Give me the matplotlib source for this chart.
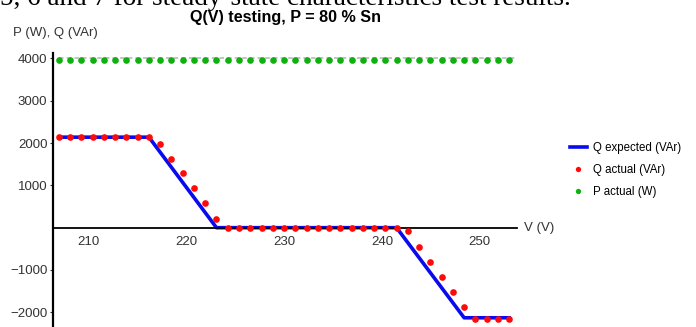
import numpy as np
import matplotlib.pyplot as plt

plt.rcParams['font.family'] = ['Liberation Sans', 'DejaVu Sans']

# measured points, 207 V .. 253 V in 0.5 % Un steps
V = 207 + 1.15*np.arange(41)
Q_act = [2140]*9 + [1980, 1625, 1285, 930, 575, 205] + [0]*16 + \
        [-80, -450, -820, -1165, -1525, -1870] + [-2150]*4
P_act = [3965]*41

# expected Q(V) curve
V_exp = [207, 216.2, 223.1, 241.5, 248.4, 253]
Q_exp = [2140, 2140, 0, 0, -2130, -2130]

P_set = 4000

fig = plt.figure(figsize=(6.96, 3.27), dpi=100)
ax = fig.add_axes([53/696, 0, (517-53)/696, 1-53/327])

ax.hlines(P_set, 207, 253.8, colors='#b4b4b4', linestyles=(0, (3, 2)), lw=1.1, zorder=1)
ax.plot(V_exp, Q_exp, color='#0a0aee', lw=2.6, label='Q expected (VAr)', zorder=2)
ax.plot(V, Q_act, 'o', color='#ff0a0a', ms=4.8, mec='none', label='Q actual (VAr)', zorder=3)
ax.plot(V, P_act, 'o', color='#10b010', ms=4.8, mec='none', label='P actual (W)', zorder=3)

ax.set_xlim(206.4, 253.8)
ax.set_ylim(-2348, 4130)
ax.set_xticks([210, 220, 230, 240, 250])
ax.set_yticks([-2000, -1000, 1000, 2000, 3000, 4000])

for s in ['top', 'right']:
    ax.spines[s].set_visible(False)
ax.spines['bottom'].set_position(('data', 0))
ax.spines['bottom'].set_linewidth(1.3)
ax.spines['left'].set_linewidth(1.6)
ax.tick_params(axis='x', length=0, pad=6, labelsize=9.5, colors='#333333')
ax.tick_params(axis='y', length=2, pad=2, labelsize=9.5, colors='#333333')
ax.patch.set_alpha(0)

fig.text(524/696, 1-228/327, 'V (V)', fontsize=9.5, va='center', ha='left', color='#333333')
fig.text(13/696, 1-33/327, 'P (W), Q (VAr)', fontsize=9.5, va='center', ha='left', color='#333333')
fig.text(285/696, 1-17.5/327, 'Q(V) testing, P = 80 % Sn', fontsize=11.6, fontweight='bold',
         va='center', ha='center')
fig.text(0, 1-5/327, '5, 6 and 7 for steady-state characteristics test results.',
         fontsize=19.5, family='Liberation Serif', va='baseline', ha='left')

ax.legend(loc='center left', bbox_to_anchor=(560/696, 1-170/327), bbox_transform=fig.transFigure,
          frameon=False, fontsize=8.3, handlelength=1.4, labelspacing=0.85, handletextpad=0.6,
          markerscale=0.8)

plt.savefig('out.png', dpi=100)
